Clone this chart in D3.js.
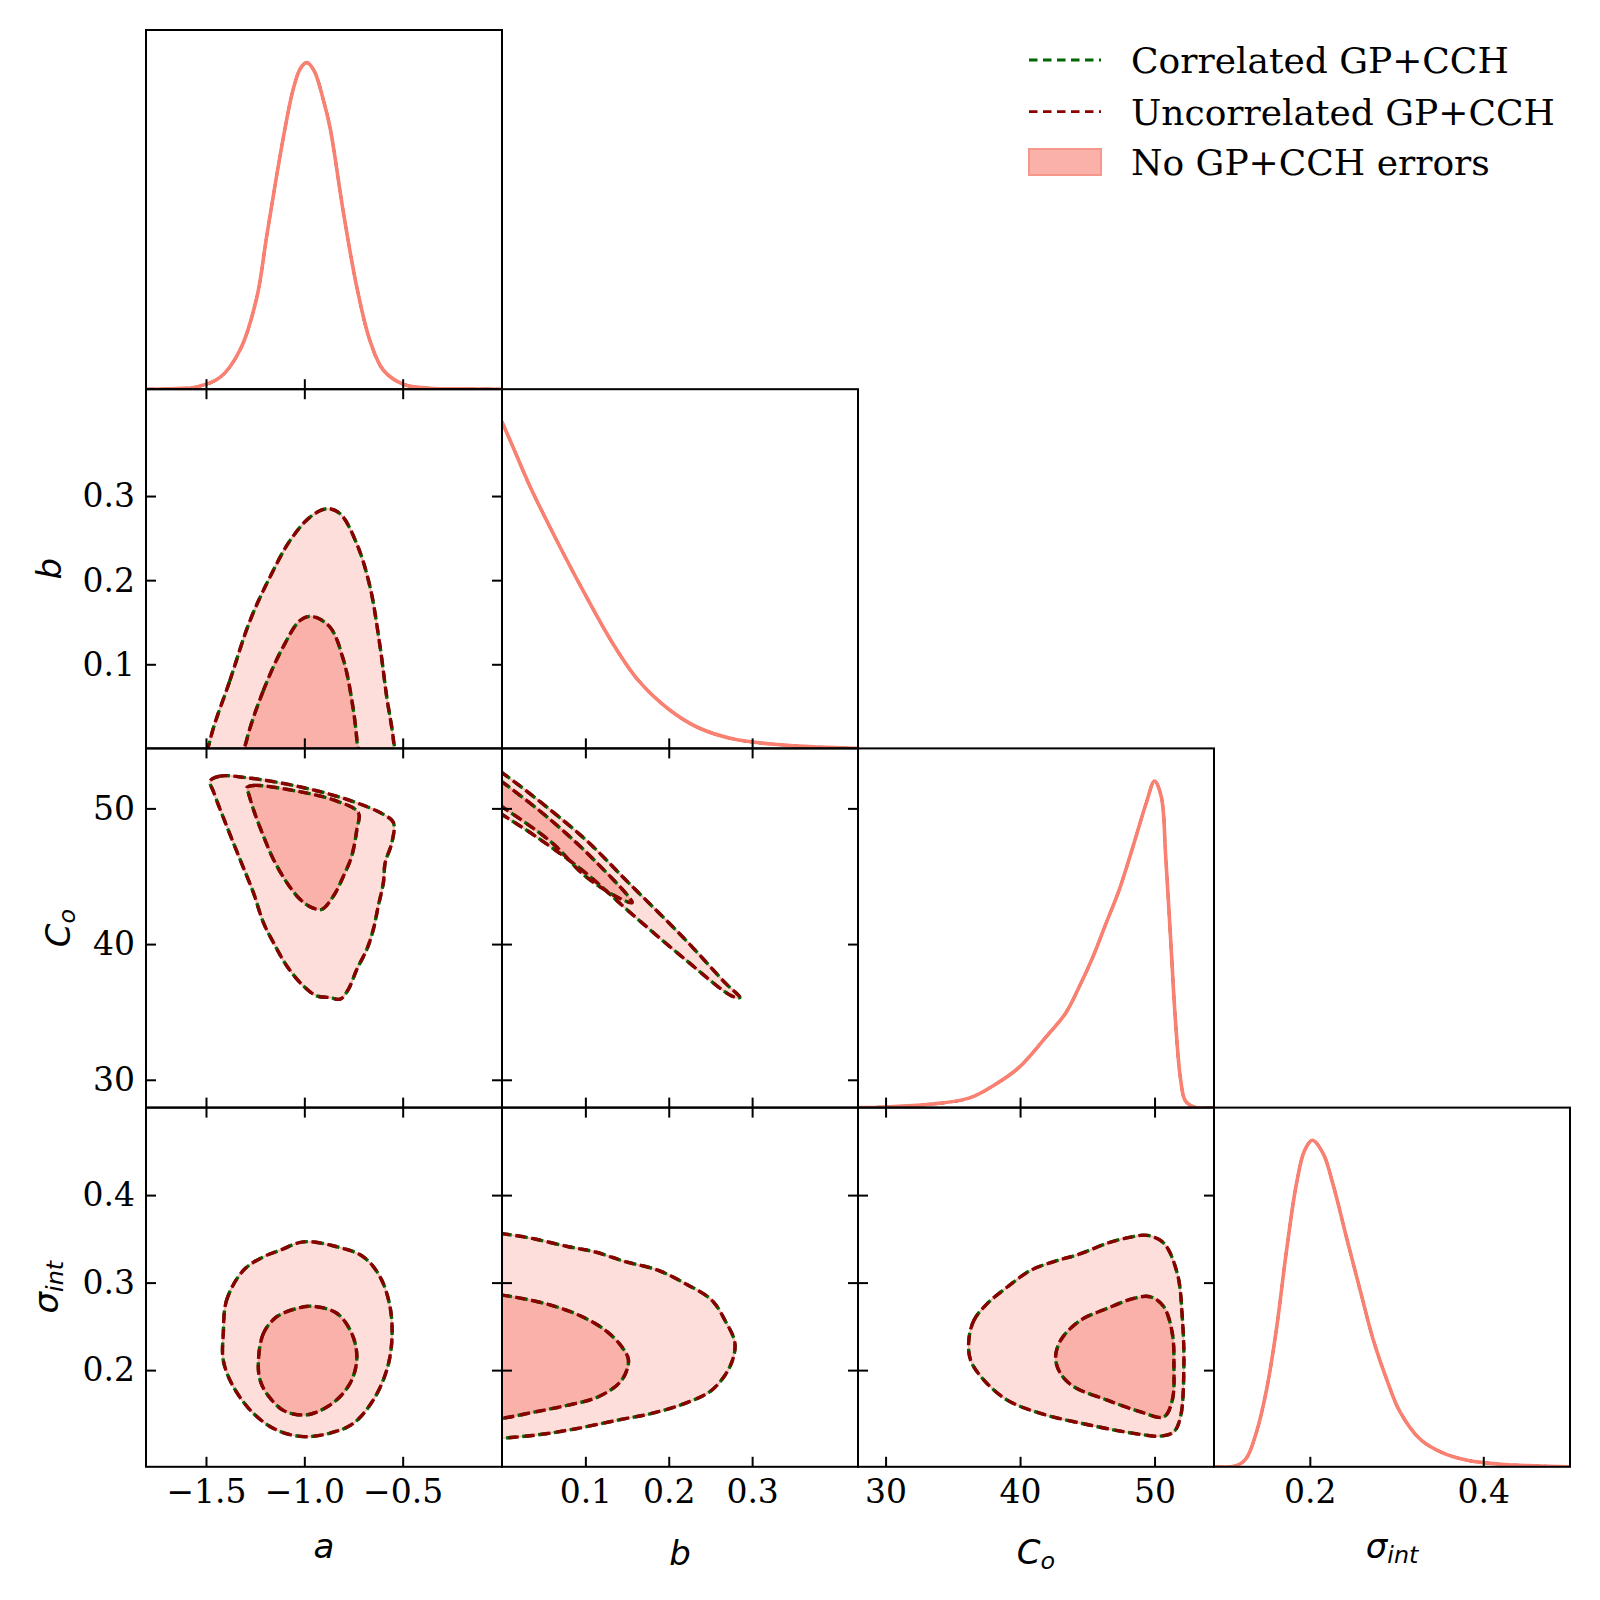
<!DOCTYPE html>
<html lang="en">
<head>
<meta charset="UTF-8" />
<title>Triangle plot</title>
<script src="https://cdn.jsdelivr.net/npm/d3@7"></script>
<style>
  body { margin: 0; background: #fff; }
</style>
</head>
<body>
<div id="corner"></div>
<script>
// ---------------- data ----------------
const seriesNames = ["Correlated GP+CCH", "Uncorrelated GP+CCH", "No GP+CCH errors"];

// axis limits
const aRange = [-1.805, 0.005];
const bRange = [0, 0.427];
const cRange = [27.95, 54.42];
const sRange = [0.0895, 0.5];

// tick values
const aTicks = [-1.5, -1.0, -0.5];
const bTicks = [0.1, 0.2, 0.3];
const cTicks = [30, 40, 50];
const sTicksX = [0.2, 0.4];
const sTicksY = [0.2, 0.3, 0.4];

// 1D marginals (peak normalised to 1)
const aGrid = [-1.805, -1.65, -1.547, -1.429, -1.327, -1.242, -1.191, -1.107, -1.056, -1.02, -0.988, -0.95, -0.903, -0.869, -0.801, -0.733, -0.666, -0.598, -0.496, -0.36, -0.2, 0.005];
const aDens = [0, 0.002, 0.007, 0.036, 0.12, 0.28, 0.47, 0.77, 0.92, 0.982, 1.0, 0.975, 0.885, 0.8, 0.54, 0.312, 0.148, 0.058, 0.015, 0.003, 0.001, 0];

const bGrid = [0, 0.012, 0.034, 0.071, 0.1, 0.132, 0.163, 0.2, 0.235, 0.279, 0.339, 0.38, 0.427];
const bDens = [1.0, 0.93, 0.8, 0.61, 0.47, 0.325, 0.21, 0.12, 0.064, 0.028, 0.01, 0.004, 0];

const cGrid = [27.95, 30.0, 33.23, 36.2, 38.2, 39.92, 41.9, 43.4, 44.4, 45.4, 46.4, 47.4, 48.4, 49.4, 50.0, 50.5, 50.83, 51.2, 51.57, 51.95, 52.3, 53.05, 54.42];
const cDens = [0, 0.002, 0.01, 0.029, 0.072, 0.123, 0.215, 0.29, 0.37, 0.46, 0.565, 0.67, 0.8, 0.935, 1.0, 0.952, 0.768, 0.512, 0.256, 0.082, 0.02, 0, 0];

const sGrid = [0.0895, 0.115, 0.1267, 0.138, 0.15, 0.1614, 0.173, 0.1846, 0.194, 0.203, 0.2154, 0.227, 0.2425, 0.258, 0.273, 0.289, 0.304, 0.327, 0.3505, 0.3815, 0.42, 0.458, 0.5];
const sDens = [0, 0.003, 0.026, 0.102, 0.235, 0.42, 0.66, 0.867, 0.969, 1.0, 0.959, 0.862, 0.7, 0.541, 0.39, 0.265, 0.168, 0.085, 0.046, 0.02, 0.008, 0.003, 0];

// 2D contours (68% inner, 95% outer), [x, y] in parameter units
const abOuter = [[-1.479, 0.010], [-1.378, 0.081], [-1.276, 0.152], [-1.174, 0.204], [-1.073, 0.247], [-0.971, 0.275], [-0.886, 0.285], [-0.818, 0.279], [-0.733, 0.243], [-0.666, 0.192], [-0.615, 0.121], [-0.581, 0.061], [-0.547, 0.010], [-0.540, -0.03], [-1.50, -0.03]];
const abInner = [[-1.293, 0.010], [-1.208, 0.069], [-1.107, 0.121], [-1.022, 0.152], [-0.962, 0.157], [-0.869, 0.144], [-0.801, 0.105], [-0.759, 0.058], [-0.733, 0.010], [-0.728, -0.03], [-1.32, -0.03]];

const acOuter = [[-1.479, 52.01], [-1.429, 52.38], [-1.293, 52.26], [-1.038, 51.64], [-0.784, 50.66], [-0.598, 49.56], [-0.547, 48.95], [-0.555, 47.47], [-0.589, 46.0], [-0.598, 44.53], [-0.624, 42.81], [-0.649, 41.09], [-0.682, 39.62], [-0.733, 38.14], [-0.776, 36.67], [-0.818, 35.94], [-0.869, 36.06], [-0.937, 36.18], [-1.005, 36.91], [-1.089, 38.39], [-1.157, 40.11], [-1.208, 41.58], [-1.259, 43.79], [-1.327, 46.24], [-1.395, 48.70], [-1.463, 51.27]];
const acInner = [[-1.293, 51.52], [-1.259, 51.69], [-1.038, 51.27], [-0.835, 50.54], [-0.725, 49.68], [-0.733, 48.45], [-0.759, 46.49], [-0.801, 45.01], [-0.852, 43.54], [-0.911, 42.56], [-0.962, 42.69], [-1.022, 43.30], [-1.089, 44.53], [-1.157, 46.24], [-1.208, 47.96], [-1.259, 49.93], [-1.285, 51.16]];

const asOuter = [[-1.412, 0.242], [-1.395, 0.280], [-1.310, 0.314], [-1.208, 0.3295], [-1.123, 0.337], [-1.005, 0.3466], [-0.835, 0.341], [-0.700, 0.3295], [-0.615, 0.3066], [-0.564, 0.272], [-0.555, 0.234], [-0.581, 0.200], [-0.649, 0.166], [-0.751, 0.139], [-0.869, 0.128], [-1.005, 0.124], [-1.140, 0.1314], [-1.259, 0.1505], [-1.361, 0.181], [-1.412, 0.211]];
const asInner = [[-1.234, 0.208], [-1.208, 0.242], [-1.140, 0.261], [-1.038, 0.2705], [-0.962, 0.273], [-0.835, 0.265], [-0.759, 0.242], [-0.733, 0.215], [-0.759, 0.1886], [-0.835, 0.166], [-0.937, 0.152], [-1.005, 0.1486], [-1.107, 0.154], [-1.191, 0.173], [-1.225, 0.1886]];

const bcOuter = [[-0.02, 53.5], [0, 52.63], [0.0319, 51.16], [0.0998, 47.72], [0.1516, 44.53], [0.2195, 40.35], [0.2674, 37.16], [0.2854, 36.06], [0.2754, 36.18], [0.2195, 38.88], [0.1516, 42.44], [0.0998, 45.27], [0.0399, 47.96], [0, 49.56], [-0.02, 50.4]];
const bcInner = [[-0.02, 52.8], [0, 51.96], [0.0599, 49.07], [0.1117, 46.12], [0.156, 43.06], [0.1397, 43.42], [0.0998, 45.01], [0.0599, 47.47], [0, 50.12], [-0.02, 50.9]];

const bsOuter = [[-0.02, 0.358], [0, 0.356], [0.036, 0.3505], [0.0798, 0.341], [0.112, 0.335], [0.1477, 0.324], [0.1876, 0.314], [0.2195, 0.299], [0.2515, 0.280], [0.2674, 0.257], [0.2794, 0.2305], [0.2734, 0.204], [0.2515, 0.177], [0.2195, 0.162], [0.1796, 0.1505], [0.1397, 0.143], [0.0798, 0.1314], [0.0399, 0.1257], [0, 0.122], [-0.02, 0.120]];
const bsInner = [[-0.02, 0.287], [0, 0.2857], [0.0519, 0.276], [0.0918, 0.263], [0.1237, 0.2457], [0.1437, 0.2266], [0.1517, 0.2114], [0.1437, 0.1886], [0.1157, 0.1695], [0.0798, 0.160], [0.0399, 0.1523], [0, 0.1448], [-0.02, 0.143]];

const csOuter = [[36.19, 0.234], [36.57, 0.257], [37.56, 0.276], [39.05, 0.295], [40.78, 0.314], [42.51, 0.324], [44.5, 0.333], [46.48, 0.345], [48.22, 0.352], [49.46, 0.354], [50.69, 0.345], [51.69, 0.3105], [52.06, 0.261], [52.18, 0.204], [51.93, 0.1466], [51.44, 0.1295], [50.46, 0.1246], [48.46, 0.1277], [45.24, 0.137], [41.52, 0.1505], [39.05, 0.1657], [37.31, 0.1886], [36.32, 0.2114]];
const csInner = [[42.64, 0.2134], [43.01, 0.234], [44.5, 0.257], [46.48, 0.2705], [48.46, 0.282], [49.7, 0.2838], [50.69, 0.2723], [51.32, 0.242], [51.44, 0.204], [51.32, 0.1657], [50.69, 0.1466], [48.96, 0.1523], [46.48, 0.1657], [44.0, 0.181], [43.01, 0.196]];

// ---------------- layout ----------------
const W = 356, H = 359.2, X0 = 146, Y0 = 30;
const green = "#006400", darkred = "#8b0000", salmon = "#fa8072";
const fillOuter = "#fddedb", fillInner = "#f9b1aa";
const serif = "DejaVu Serif", mathFont = "DejaVu Sans";

const pars = [
  { range: aRange, xticks: aTicks, yticks: aTicks, grid: aGrid, dens: aDens, fmt: d3.format(".1f"), base: "a", sub: null, xb: 1558, yb: 61 },
  { range: bRange, xticks: bTicks, yticks: bTicks, grid: bGrid, dens: bDens, fmt: d3.format(".1f"), base: "b", sub: null, xb: 1565, yb: 61 },
  { range: cRange, xticks: cTicks, yticks: cTicks, grid: cGrid, dens: cDens, fmt: d3.format("d"), base: "C", sub: "o", xb: 1564, yb: 70 },
  { range: sRange, xticks: sTicksX, yticks: sTicksY, grid: sGrid, dens: sDens, fmt: d3.format(".1f"), base: "σ", sub: "int", xb: 1558, yb: 57.5 }
];

const contours = {
  "0-1": [abOuter, abInner], "0-2": [acOuter, acInner], "0-3": [asOuter, asInner],
  "1-2": [bcOuter, bcInner], "1-3": [bsOuter, bsInner], "2-3": [csOuter, csInner]
};

const svg = d3.select("#corner").append("svg")
  .attr("width", 1600).attr("height", 1600)
  .style("background", "#fff");

const xScale = (i) => d3.scaleLinear().domain(pars[i].range).range([0, W]);
const yScale = (j) => d3.scaleLinear().domain(pars[j].range).range([H, 0]);
const densY = d3.scaleLinear().domain([0, 1.1]).range([H, 0]);

function styleAxis(g) {
  g.select(".domain").remove();
  g.selectAll("line").attr("stroke", "#000").attr("stroke-width", 2);
  g.selectAll("text").attr("font-family", serif).attr("font-size", 33).attr("fill", "#000");
}

function mathText(sel, p) {
  sel.attr("font-family", mathFont).attr("font-style", "italic").attr("font-size", 34).attr("fill", "#000");
  sel.append("tspan").text(p.base);
  if (p.sub) sel.append("tspan").attr("font-size", "0.7em").attr("dy", "0.22em").text(p.sub);
}

for (let j = 0; j < 4; j++) {
  for (let i = 0; i <= j; i++) {
    const g = svg.append("g").attr("transform", `translate(${X0 + i * W},${Y0 + j * H})`);
    const clipId = `clip-${i}-${j}`;
    g.append("clipPath").attr("id", clipId).append("rect").attr("width", W).attr("height", H);
    const body = g.append("g").attr("clip-path", `url(#${clipId})`);
    const x = xScale(i);

    if (i === j) {
      // 1D marginal
      const p = pars[i];
      const pts = p.grid.map((v, k) => [v, p.dens[k]]);
      const line = d3.line().x(d => x(d[0])).y(d => densY(d[1])).curve(d3.curveCatmullRom.alpha(0.5));
      body.append("path").attr("d", line(pts)).attr("fill", "none")
        .attr("stroke", green).attr("stroke-width", 2.6).attr("stroke-dasharray", "10,6");
      body.append("path").attr("d", line(pts)).attr("fill", "none")
        .attr("stroke", darkred).attr("stroke-width", 2.6).attr("stroke-dasharray", "10,6").attr("stroke-dashoffset", 3);
      body.append("path").attr("d", line(pts)).attr("fill", "none")
        .attr("stroke", salmon).attr("stroke-width", 3.6);
    } else {
      const y = yScale(j);
      const [outer, inner] = contours[`${i}-${j}`];
      const shape = d3.line().x(d => x(d[0])).y(d => y(d[1])).curve(d3.curveCatmullRomClosed.alpha(0.5));
      body.append("path").attr("d", shape(outer)).attr("fill", fillOuter)
        .attr("stroke", "#f9b0a8").attr("stroke-width", 1.5);
      body.append("path").attr("d", shape(inner)).attr("fill", fillInner)
        .attr("stroke", "#f6a096").attr("stroke-width", 1.2);
      [outer, inner].forEach(c => {
        body.append("path").attr("d", shape(c)).attr("fill", "none")
          .attr("stroke", green).attr("stroke-width", 3.4).attr("stroke-dasharray", "10,6");
        body.append("path").attr("d", shape(c)).attr("fill", "none")
          .attr("stroke", darkred).attr("stroke-width", 3.4).attr("stroke-dasharray", "10,6").attr("stroke-dashoffset", 2.5);
      });

      // inward ticks on top, left and right
      g.append("g").call(d3.axisTop(x).tickValues(pars[i].xticks).tickSize(-10).tickSizeOuter(0).tickFormat(""))
        .call(styleAxis);
      g.append("g").call(d3.axisLeft(y).tickValues(pars[j].yticks).tickSize(-10).tickSizeOuter(0).tickPadding(11)
        .tickFormat(i === 0 ? pars[j].fmt : ""))
        .call(styleAxis)
        .call(a => a.selectAll("text").attr("dy", "0.33em"));
      g.append("g").attr("transform", `translate(${W},0)`)
        .call(d3.axisRight(y).tickValues(pars[j].yticks).tickSize(-10).tickSizeOuter(0).tickFormat(""))
        .call(styleAxis);
    }

    // bottom ticks on every panel, labels on the bottom row
    g.append("g").attr("transform", `translate(0,${H})`)
      .call(d3.axisBottom(x).tickValues(pars[i].xticks).tickSize(-10).tickSizeOuter(0).tickPadding(13)
        .tickFormat(j === 3 ? pars[i].fmt : ""))
      .call(styleAxis);

    g.append("rect").attr("width", W).attr("height", H)
      .attr("fill", "none").attr("stroke", "#000").attr("stroke-width", 2);
  }
}

// axis labels
pars.forEach((p, i) => {
  svg.append("text").attr("x", X0 + i * W + W / 2).attr("y", p.xb)
    .attr("text-anchor", "middle").call(mathText, p);
  if (i > 0) {
    svg.append("text")
      .attr("transform", `translate(${p.yb},${Y0 + i * H + H / 2}) rotate(-90)`)
      .attr("text-anchor", "middle").call(mathText, p);
  }
});

// legend
const legend = svg.append("g").attr("transform", "translate(1029,0)");
const rowY = [60, 111.7, 162];
[green, darkred].forEach((c, k) => {
  legend.append("line").attr("x1", 0).attr("x2", 72).attr("y1", rowY[k]).attr("y2", rowY[k])
    .attr("stroke", c).attr("stroke-width", 2.8).attr("stroke-dasharray", "8.5,5.5");
});
legend.append("rect").attr("x", 0).attr("y", rowY[2] - 13).attr("width", 72).attr("height", 26)
  .attr("fill", fillInner).attr("stroke", "#f6978c").attr("stroke-width", 2);
seriesNames.forEach((name, k) => {
  legend.append("text").attr("x", 102).attr("y", rowY[k] + 13)
    .attr("font-family", serif).attr("font-size", 36).attr("fill", "#000").text(name);
});
</script>
</body>
</html>
